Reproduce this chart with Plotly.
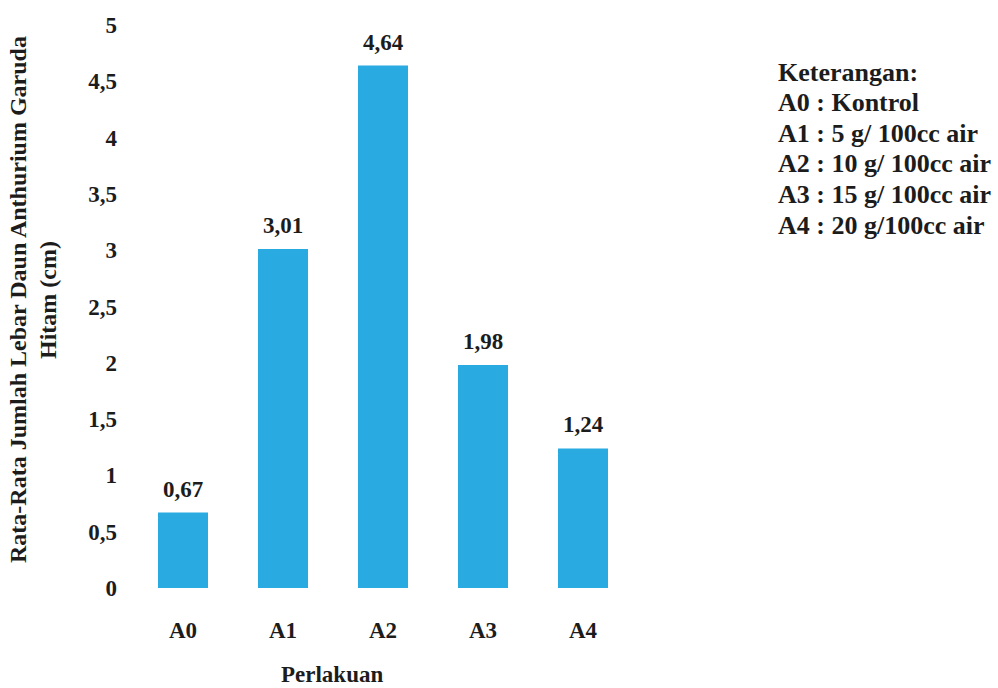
import plotly.graph_objects as go

# Mean leaf width per treatment
categories = ["A0", "A1", "A2", "A3", "A4"]
values = [0.67, 3.01, 4.64, 1.98, 1.24]
y_ticks = [0, 0.5, 1, 1.5, 2, 2.5, 3, 3.5, 4, 4.5, 5]
legend_lines = [
    "Keterangan:",
    "A0 : Kontrol",
    "A1 : 5 g/ 100cc air",
    "A2 : 10 g/ 100cc air",
    "A3 : 15 g/ 100cc air",
    "A4 : 20 g/100cc air",
]

FONT = "Liberation Serif"
INK = "#1c1c1c"
BAR = "#29aae1"

W, H = 998, 688
ML, MR, MT, MB = 133, 365, 25, 100
PW, PH = W - ML - MR, H - MT - MB


def bold(s):
    return f"<b>{s}</b>"


def px_x(x):
    return (x - ML) / PW


def px_y(y):
    return 1 - (y - MT) / PH


fig = go.Figure(
    go.Bar(
        x=categories,
        y=values,
        marker=dict(color=BAR, line=dict(width=0)),
        width=0.5,
        hoverinfo="skip",
    )
)

# value labels above each bar
for c, v in zip(categories, values):
    fig.add_annotation(
        x=c, y=v, xref="x", yref="y",
        text=bold(f"{v:.2f}".replace(".", ",")),
        showarrow=False, yanchor="bottom", yshift=9,
        font=dict(family=FONT, size=23, color=INK),
    )

# y-axis title (two rotated lines)
fig.add_annotation(
    x=px_x(18), y=px_y(300), xref="paper", yref="paper",
    text=bold("Rata-Rata Jumlah Lebar Daun Anthurium Garuda"),
    textangle=-90, showarrow=False, xanchor="center", yanchor="middle",
    font=dict(family=FONT, size=24, color=INK),
)
fig.add_annotation(
    x=px_x(48), y=px_y(300), xref="paper", yref="paper",
    text=bold("Hitam (cm)"),
    textangle=-90, showarrow=False, xanchor="center", yanchor="middle",
    font=dict(family=FONT, size=24, color=INK),
)

# x-axis title
fig.add_annotation(
    x=px_x(332), y=px_y(674), xref="paper", yref="paper",
    text=bold("Perlakuan"), showarrow=False,
    xanchor="center", yanchor="middle",
    font=dict(family=FONT, size=23, color=INK),
)

# treatment key on the right
for i, line in enumerate(legend_lines):
    fig.add_annotation(
        x=px_x(776), y=px_y(72 + i * 30.6), xref="paper", yref="paper",
        text=bold(line), showarrow=False,
        xanchor="left", yanchor="middle",
        font=dict(family=FONT, size=26, color=INK),
    )

fig.update_layout(
    width=W, height=H,
    margin=dict(l=ML, r=MR, t=MT, b=MB),
    paper_bgcolor="white", plot_bgcolor="white",
    showlegend=False,
    font=dict(family=FONT, color=INK),
    xaxis=dict(
        type="category", showline=False, showgrid=False, zeroline=False,
        ticks="", ticklabelstandoff=26,
        tickvals=categories, ticktext=[bold(c) for c in categories],
        tickfont=dict(family=FONT, size=23, color=INK),
    ),
    yaxis=dict(
        range=[0, 5], tickvals=y_ticks,
        ticktext=[bold(f"{t:g}".replace(".", ",")) for t in y_ticks],
        showline=False, showgrid=False,
        zeroline=False, ticks="", ticklabelstandoff=15,
        tickfont=dict(family=FONT, size=23, color=INK),
    ),
)

fig.write_html("out.html")
